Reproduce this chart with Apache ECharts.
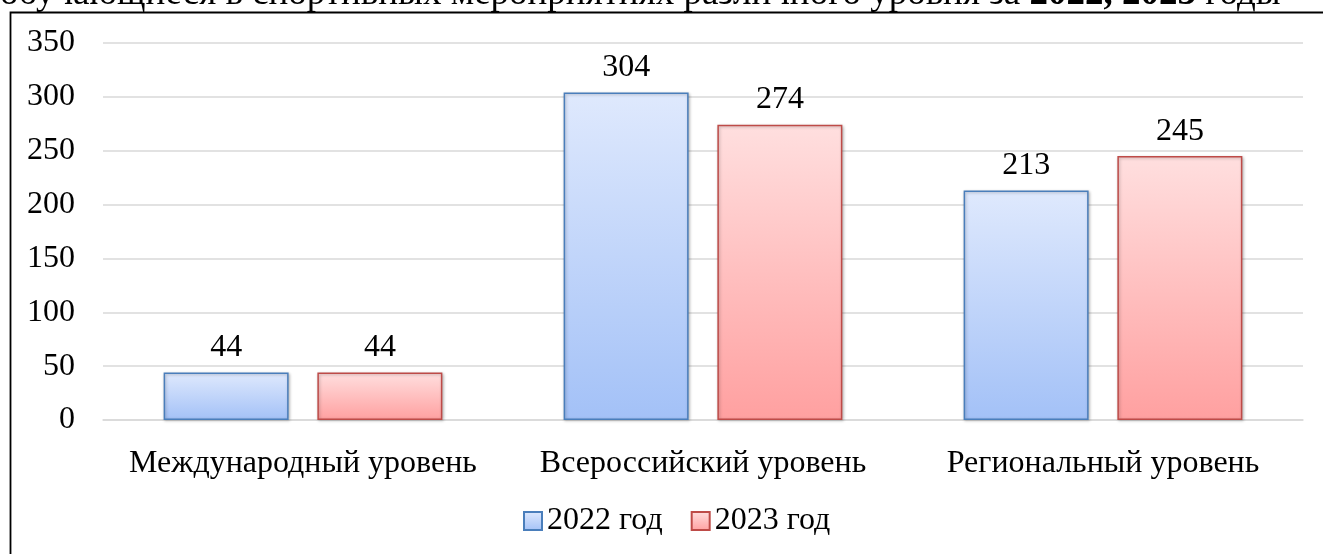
<!DOCTYPE html>
<html>
<head>
<meta charset="utf-8">
<script src="https://cdn.jsdelivr.net/npm/echarts@6/dist/echarts.min.js"></script>
<style>
html,body{margin:0;padding:0;background:#fff;}
#c{width:1323px;height:554px;}
</style>
</head>
<body>
<div id="c"></div>
<script>
const categories = ['Международный уровень', 'Всероссийский уровень', 'Региональный уровень'];
const seriesNames = ['2022 год', '2023 год'];
const values2022 = [44, 304, 213];
const values2023 = [44, 274, 245];
const yTicks = [0, 50, 100, 150, 200, 250, 300, 350];

const FONT = '"Liberation Serif", "Times New Roman", serif';
const FS = 32;
const chart = echarts.init(document.getElementById('c'));

function grad(top, bottom) {
  return new echarts.graphic.LinearGradient(0, 0, 0, 1, [
    {offset: 0, color: top}, {offset: 1, color: bottom}
  ]);
}

const option = {
  animation: false,
  backgroundColor: '#fff',
  graphic: [
    {
      type: 'text', z: 10, silent: true,
      style: {
        x: 0, y: -6, verticalAlign: 'middle', align: 'left',
        text: 'обучающиеся в спортивных мероприятиях различного уровня за {b|2022, 2023} годы',
        font: '37px ' + FONT, fill: '#000',
        rich: { b: { font: 'bold 37px ' + FONT, fill: '#000' } }
      }
    },
    {
      type: 'rect', z: 5, silent: true,
      shape: {x: 10.5, y: 12.5, width: 1400, height: 600},
      style: {fill: 'none', stroke: '#000', lineWidth: 1.8}
    }
  ],
  legend: {
    top: 500, left: 518,
    itemWidth: 18, itemHeight: 18, itemGap: 28,
    icon: 'rect',
    textStyle: {fontFamily: FONT, fontSize: FS, color: '#000'},
    data: seriesNames
  },
  grid: {left: 103, right: 20, top: 43, bottom: 134, containLabel: false},
  xAxis: {
    type: 'category', data: categories,
    axisLine: {show: true, lineStyle: {color: '#d9d9d9', width: 1.5}},
    axisTick: {show: false},
    axisLabel: {fontFamily: FONT, fontSize: FS, color: '#000', margin: 28, interval: 0}
  },
  yAxis: {
    type: 'value', min: yTicks[0], max: yTicks[yTicks.length - 1], interval: 50,
    axisLine: {show: false}, axisTick: {show: false},
    axisLabel: {fontFamily: FONT, fontSize: FS, color: '#000', margin: 28},
    splitLine: {lineStyle: {color: '#d9d9d9', width: 1.5}}
  },
  series: [
    {
      name: seriesNames[0], type: 'bar', data: values2022,
      barWidth: '31.25%', barGap: '23%',
      itemStyle: {
        color: grad('#dfe9fd', '#a3c1f7'), borderColor: '#4a7ebb', borderWidth: 1.5,
        shadowColor: 'rgba(0,0,0,0.25)', shadowBlur: 3, shadowOffsetX: 1, shadowOffsetY: 1
      },
      label: {show: true, position: 'top', distance: 9, fontFamily: FONT, fontSize: FS, color: '#000'}
    },
    {
      name: seriesNames[1], type: 'bar', data: values2023,
      barWidth: '31.25%', barGap: '23%',
      itemStyle: {
        color: grad('#ffdfdf', '#ffa0a0'), borderColor: '#be4b48', borderWidth: 1.5,
        shadowColor: 'rgba(0,0,0,0.25)', shadowBlur: 3, shadowOffsetX: 1, shadowOffsetY: 1
      },
      label: {show: true, position: 'top', distance: 9, fontFamily: FONT, fontSize: FS, color: '#000'}
    }
  ]
};
chart.setOption(option);
</script>
</body>
</html>
